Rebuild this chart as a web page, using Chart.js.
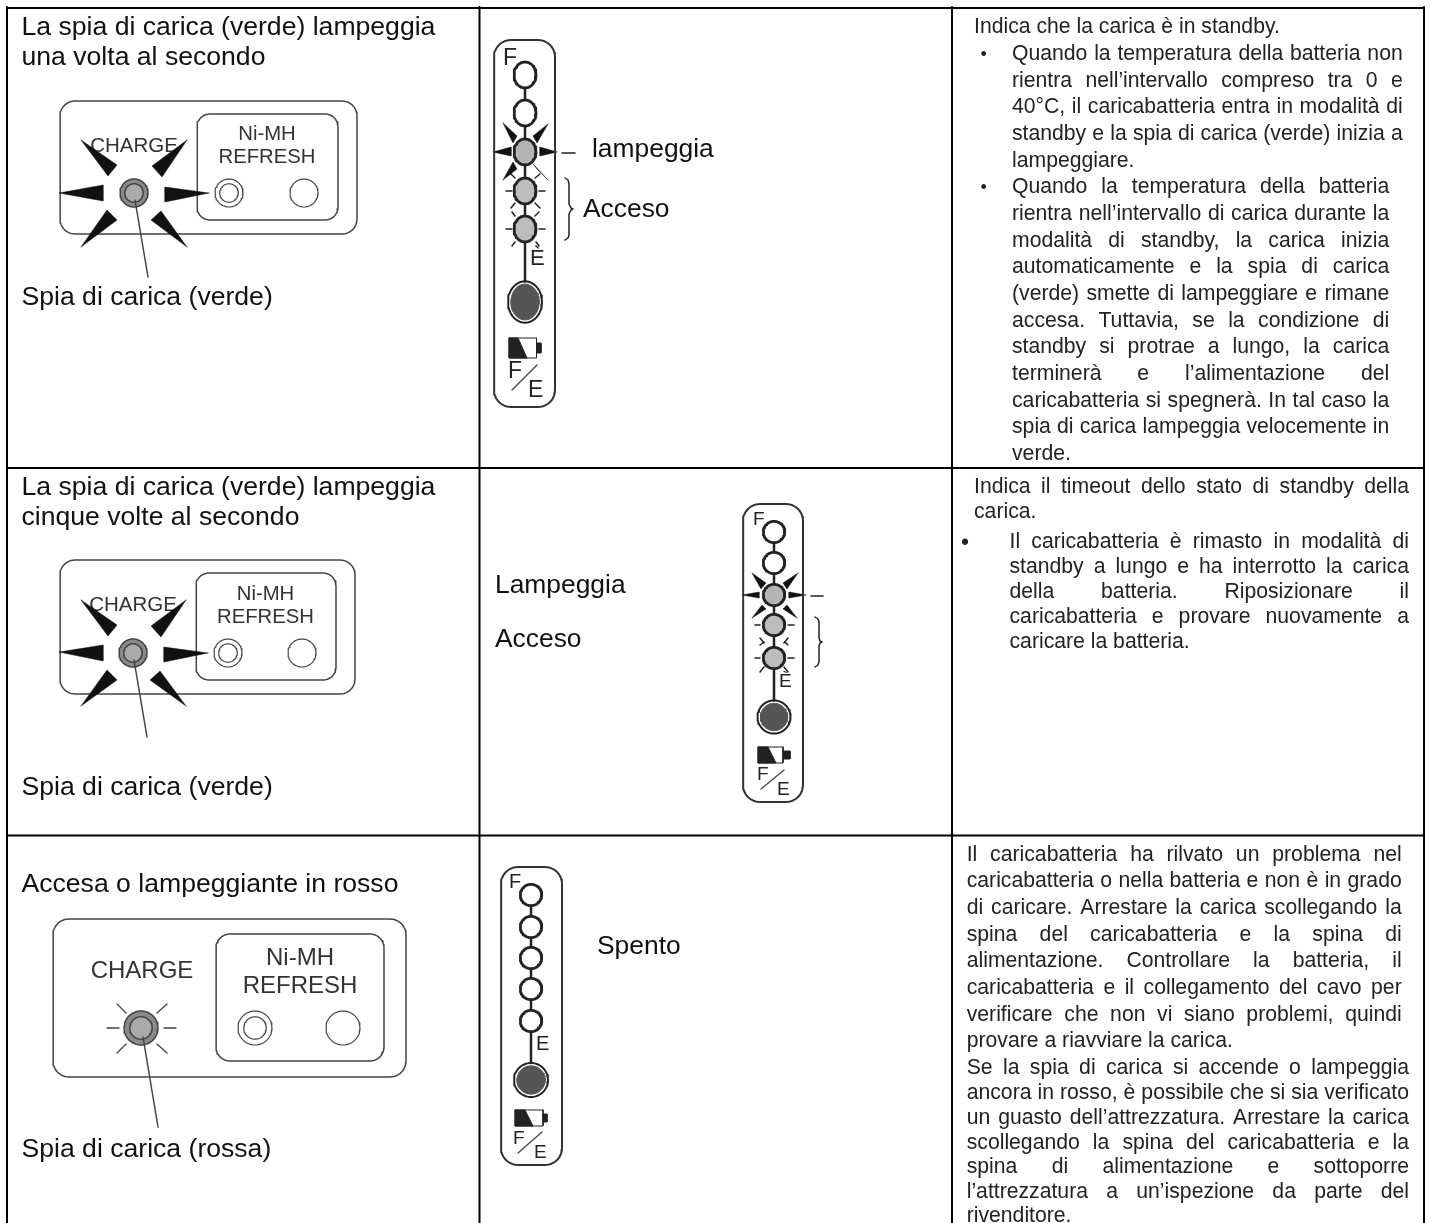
<!DOCTYPE html>
<html>
<head>
<meta charset="utf-8">
<style>
  html, body { margin: 0; padding: 0; background: #fff; overflow: hidden; }
  canvas { display: block; }
</style>
<script src="https://cdn.jsdelivr.net/npm/chart.js@4/dist/chart.umd.min.js"></script>
</head>
<body>
<canvas id="sheet" width="1431" height="1223"></canvas>
<script>
// Table grid
const tableCols = [7, 479.5, 952, 1424];
const tableRows = [8, 468, 835.5];

// Left column text
const leftLabels = [
  'La spia di carica (verde) lampeggia', 'una volta al secondo', 'Spia di carica (verde)',
  'La spia di carica (verde) lampeggia', 'cinque volte al secondo', 'Spia di carica (verde)',
  'Accesa o lampeggiante in rosso', 'Spia di carica (rossa)'
];
const leftBaselines = [35, 64.5, 304.5, 495, 524.5, 794.5, 892, 1157];

// Middle column text
const midLabels = ['lampeggia', 'Acceso', 'Lampeggia', 'Acceso', 'Spento'];
const midX = [592, 583, 495, 495, 597];
const midBaselines = [156.5, 217, 593, 647, 953.5];

// Right column text, line by line
const row1Intro = ['Indica che la carica è in standby.'];
const row1BulletA = [
  'Quando la temperatura della batteria non',
  'rientra nell’intervallo compreso tra 0 e',
  '40°C, il caricabatteria entra in modalità di',
  'standby e la spia di carica (verde) inizia a',
  'lampeggiare.'
];
const row1BulletB = [
  'Quando la temperatura della batteria',
  'rientra nell’intervallo di carica durante la',
  'modalità di standby, la carica inizia',
  'automaticamente e la spia di carica',
  '(verde) smette di lampeggiare e rimane',
  'accesa. Tuttavia, se la condizione di',
  'standby si protrae a lungo, la carica',
  'terminerà e l’alimentazione del',
  'caricabatteria si spegnerà. In tal caso la',
  'spia di carica lampeggia velocemente in',
  'verde.'
];
const row2Intro = ['Indica il timeout dello stato di standby della', 'carica.'];
const row2Bullet = [
  'Il caricabatteria è rimasto in modalità di',
  'standby a lungo e ha interrotto la carica',
  'della batteria. Riposizionare il',
  'caricabatteria e provare nuovamente a',
  'caricare la batteria.'
];
const row3ParaA = [
  'Il caricabatteria ha rilvato un problema nel',
  'caricabatteria o nella batteria e non è in grado',
  'di caricare. Arrestare la carica scollegando la',
  'spina del caricabatteria e la spina di',
  'alimentazione. Controllare la batteria, il',
  'caricabatteria e il collegamento del cavo per',
  'verificare che non vi siano problemi, quindi',
  'provare a riavviare la carica.'
];
const row3ParaB = [
  'Se la spia di carica si accende o lampeggia',
  'ancora in rosso, è possibile che si sia verificato',
  'un guasto dell’attrezzatura. Arrestare la carica',
  'scollegando la spina del caricabatteria e la',
  'spina di alimentazione e sottoporre',
  'l’attrezzatura a un’ispezione da parte del',
  'rivenditore.'
];
const row1IntroY = [33.3];
const row1BulletAY = [60, 86.7, 113.3, 140, 166.7];
const row1BulletBY = [193.3, 220, 246.7, 273.3, 300, 326.7, 353.3, 380, 406.7, 433.3, 460];
const row2IntroY = [493.3, 518];
const row2BulletY = [548, 573, 598, 623, 648];
const row3ParaAY = [860.7, 887.3, 914, 940.7, 967.3, 994, 1020.7, 1047.3];
const row3ParaBY = [1074, 1098.5, 1123.5, 1148.5, 1173, 1197.5, 1222];

// Charger panels: outer box, refresh box, led, two small lamps
const panelBoxes = [[60, 101, 357, 234, 15], [60, 560, 355, 694, 15], [53, 919, 406, 1077, 16]];
const refreshBoxes = [[197, 114, 338, 220, 13], [196, 573, 336, 680, 13], [216, 934, 384, 1061, 14]];
const ledCentres = [[134, 193], [133, 653], [141, 1028]];
const ledRadii = [14, 14, 17];
const lampA = [[229, 193], [228, 653], [255, 1028]];
const lampB = [[304, 193], [302, 653], [343, 1028]];
const pointers = [[[135, 200], [148, 277]], [[134, 660], [147, 737]], [[143, 1037], [158, 1127]]];
const chargeLabel = [[134, 152, 20.5], [133, 611, 20.5], [142, 978, 24]];
const nimhLabel = [[267, 140, 20.3], [265.5, 600, 20.3], [300, 965, 24]];
const refreshLabel = [[267, 163, 20.3], [265.5, 623, 20.3], [300, 993, 24]];

const panel1Arrows = [
  [[81, 140], [117, 165], [108, 176]],
  [[187, 140], [152, 166], [162, 177]],
  [[59, 193], [103, 185], [103, 201]],
  [[209, 193], [165, 187], [165, 202]],
  [[81, 247], [107, 210], [117, 220]],
  [[187, 247], [151, 220], [161, 211]]
];
const panel2Arrows = [
  [[81, 600], [117, 625], [108, 636]],
  [[186, 600], [151, 626], [161, 637]],
  [[59, 652], [103, 645], [103, 661]],
  [[208, 653], [164, 647], [164, 662]],
  [[81, 706], [107, 670], [117, 680]],
  [[186, 706], [150, 680], [160, 671]]
];
const panel3Rays = [
  [[107, 1028], [119, 1028]], [[164, 1028], [176, 1028]],
  [[117, 1004], [126, 1013]], [[167, 1004], [157, 1013]],
  [[117, 1053], [126, 1044]], [[167, 1053], [157, 1044]]
];

// Level gauges
const gaugeBoxes = [[494, 40, 555, 407, 17], [743, 504, 803, 802, 17], [501, 867, 562, 1165, 17]];
const gaugeSpines = [525, 774, 531];
const gauge1Leds = [75, 113, 152, 191, 229];
const gauge2Leds = [532, 563, 595, 625, 658];
const gauge3Leds = [895, 927, 958, 989, 1021];
const gaugeLedRx = [11, 10.7, 10.7];
const gaugeLedRy = [13, 10.7, 10.7];
const gaugeBig = [[302, 17, 20.7], [717, 16.5, 16.5], [1080, 17, 17]];
const gaugeLit = [[0, 0, 1, 2, 2], [0, 0, 1, 2, 2], [0, 0, 0, 0, 0]];
const gaugeLetters = [
  ['F', 503, 65, 23], ['È', 530, 265, 22], ['F', 508, 378, 23], ['E', 528, 397, 23],
  ['F', 753, 525, 19], ['È', 779, 687, 19], ['F', 757, 780, 19], ['E', 777, 795, 19],
  ['F', 509, 888, 20], ['E', 536, 1050, 20], ['F', 513, 1144, 19], ['E', 534, 1158, 19]
];
const gaugeSlashes = [[[512, 390], [537, 365]], [[761, 789], [784, 770]], [[518, 1153], [542, 1132]]];
const batteryBody = [[509, 338, 536.5, 358], [758, 747, 783, 763], [515, 1110, 543, 1126]];
const batteryBlack = [
  [[509, 338], [518, 338], [527, 358], [509, 358]],
  [[758, 747], [768, 747], [776, 763], [758, 763]],
  [[515, 1110], [525, 1110], [533, 1126], [515, 1126]]
];
const batteryNub = [
  [[537, 343], [541, 343], [541, 353], [537, 353]],
  [[783, 751], [790, 751], [790, 759], [783, 759]],
  [[543, 1114], [547, 1114], [547, 1122], [543, 1122]]
];
const gauge1Arrows = [
  [[503, 123], [517, 136], [513, 143]],
  [[548, 124], [533, 136], [537, 143]],
  [[493, 152], [511, 147], [511, 156]],
  [[557, 152], [540, 147], [540, 156]],
  [[503, 180], [513, 162], [517, 169]],
  [[548, 180], [533, 164], [537, 169]]
];
const gauge2Arrows = [
  [[752, 573], [766, 583], [761, 589]],
  [[798, 573], [783, 583], [787, 589]],
  [[742, 595], [759, 592], [759, 598]],
  [[806, 595], [789, 592], [789, 598]],
  [[752, 618], [762, 605], [766, 609]],
  [[797, 618], [783, 609], [787, 605]]
];
const gauge1Rays = [
  [[562, 153], [575, 153]],
  [[506, 191], [512, 191]], [[539, 191], [545, 191]],
  [[511, 174], [515, 178]], [[540, 174], [535, 178]],
  [[511, 208], [515, 203]], [[540, 208], [535, 203]],
  [[506, 229], [512, 229]], [[539, 229], [545, 229]],
  [[512, 212], [515, 216]], [[539, 212], [535, 216]],
  [[512, 246], [515, 242]], [[539, 246], [536, 242]]
];
const gauge2Rays = [
  [[811, 596], [823, 596]],
  [[755, 625], [760, 625]], [[788, 625], [794, 625]],
  [[760, 645], [764, 642]], [[788, 645], [785, 642]],
  [[755, 658], [760, 658]], [[788, 658], [794, 658]],
  [[760, 638], [764, 643]], [[788, 638], [784, 643]],
  [[760, 672], [764, 667]], [[788, 672], [784, 667]]
];
const braces = [
  [[565, 178], [568, 180], [569, 184], [569, 204], [571, 208], [573, 209], [571, 210], [569, 214], [569, 235], [568, 238], [565, 240]],
  [[815, 617], [818, 619], [819, 622], [819, 638], [820, 641], [822, 642], [820, 643], [819, 646], [819, 662], [818, 665], [815, 667]]
];

// helpers
const sheetDatasets = [];
const ink = '#222';

function addMark(pts, color, width, fillColor) {
  sheetDatasets.push({
    data: pts.map(p => ({ x: p[0], y: p[1] })),
    borderColor: color,
    borderWidth: width,
    backgroundColor: fillColor || 'transparent',
    fill: fillColor ? 'shape' : false,
    showLine: true,
    pointRadius: 0,
    tension: 0,
    borderJoinStyle: 'round',
    borderCapStyle: 'round',
    clip: false,
    order: -sheetDatasets.length
  });
}

function ovalOutline(cx, cy, rx, ry) {
  const pts = [];
  for (let a = 0; a <= 60; a++) {
    const t = a / 60 * Math.PI * 2;
    pts.push([cx + rx * Math.cos(t), cy + ry * Math.sin(t)]);
  }
  return pts;
}

function boxOutline(b) {
  const [x0, y0, x1, y1, r] = b;
  const pts = [];
  const corners = [[x1 - r, y0 + r, -90], [x1 - r, y1 - r, 0], [x0 + r, y1 - r, 90], [x0 + r, y0 + r, 180]];
  corners.forEach(c => {
    for (let a = 0; a <= 12; a++) {
      const t = (c[2] + a * 7.5) * Math.PI / 180;
      pts.push([c[0] + r * Math.cos(t), c[1] + r * Math.sin(t)]);
    }
  });
  pts.push(pts[0]);
  return pts;
}

// table
tableCols.forEach(x => addMark([[x, tableRows[0] - 1], [x, 1223]], '#000', 2));
tableRows.forEach(y => addMark([[tableCols[0], y], [tableCols[3], y]], '#000', 2));

// charger panels
panelBoxes.forEach((b, i) => {
  addMark(boxOutline(b), '#444', 1.5);
  addMark(boxOutline(refreshBoxes[i]), '#444', 1.5);
  const [cx, cy] = ledCentres[i];
  const r = ledRadii[i];
  addMark(ovalOutline(cx, cy, r, r), '#444', 1.5, '#8a8a8a');
  addMark(ovalOutline(cx, cy, r * 0.66, r * 0.66), '#444', 1.5, '#aaa');
  addMark(ovalOutline(lampA[i][0], lampA[i][1], r, r), '#444', 1.2);
  addMark(ovalOutline(lampA[i][0], lampA[i][1], r * 0.66, r * 0.66), '#444', 1.2);
  addMark(ovalOutline(lampB[i][0], lampB[i][1], r, r), '#444', 1.2);
  addMark(pointers[i], '#444', 1.5);
});
[panel1Arrows, panel2Arrows, gauge1Arrows, gauge2Arrows].forEach(list => {
  list.forEach(t => addMark(t.concat([t[0]]), '#111', 0.5, '#111'));
});
panel3Rays.forEach(r => addMark(r, '#444', 1.3));
gauge1Rays.forEach(r => addMark(r, ink, 1.5));
gauge2Rays.forEach(r => addMark(r, ink, 1.5));
braces.forEach(b => addMark(b, ink, 1.5));

// gauges
[gauge1Leds, gauge2Leds, gauge3Leds].forEach((leds, g) => {
  const sx = gaugeSpines[g];
  const rx = gaugeLedRx[g];
  const ry = gaugeLedRy[g];
  const [bigY, bigRx, bigRy] = gaugeBig[g];
  addMark(boxOutline(gaugeBoxes[g]), '#333', 2);
  leds.forEach((y, i) => {
    addMark(ovalOutline(sx, y, rx, ry), ink, 2.8, ['#fff', '#b4b4b4', '#bdbdbd'][gaugeLit[g][i]]);
    const nextTop = i < leds.length - 1 ? leds[i + 1] - ry : bigY - bigRy;
    addMark([[sx, y + ry], [sx, nextTop]], ink, 2.5);
  });
  addMark(ovalOutline(sx, bigY, bigRx, bigRy), ink, 2);
  addMark(ovalOutline(sx, bigY, bigRx - 2.8, bigRy - 2.8), '#555', 1, '#555');
  const bb = batteryBody[g];
  addMark(boxOutline([bb[0], bb[1], bb[2], bb[3], 0]), ink, 1);
  addMark(batteryBlack[g].concat([batteryBlack[g][0]]), ink, 1, ink);
  addMark(batteryNub[g].concat([batteryNub[g][0]]), ink, 1, ink);
  addMark(gaugeSlashes[g], '#444', 1.3);
});

const justifiedBlocks = [
  { lines: row1Intro, ys: row1IntroY, x: 974, right: 0 },
  { lines: row1BulletA, ys: row1BulletAY, x: 1012, right: 1402.7 },
  { lines: row1BulletB, ys: row1BulletBY, x: 1012, right: 1389.3 },
  { lines: row2Intro, ys: row2IntroY, x: 974, right: 1409 },
  { lines: row2Bullet, ys: row2BulletY, x: 1009.5, right: 1409 },
  { lines: row3ParaA, ys: row3ParaAY, x: 966.7, right: 1401.7 },
  { lines: row3ParaB, ys: row3ParaBY, x: 966.7, right: 1409 }
];

function putText(chart, str, x, y, size, color, align) {
  const { ctx, scales } = chart;
  ctx.font = size + 'px "Liberation Sans"';
  ctx.fillStyle = color;
  ctx.textAlign = align || 'left';
  ctx.textBaseline = 'alphabetic';
  ctx.fillText(str, scales.x.getPixelForValue(x), scales.y.getPixelForValue(y));
}

const sheetText = {
  id: 'sheetText',
  // panel captions sit under the arrows, so they go down before the fills
  beforeDraw(chart) {
    [0, 1, 2].forEach(i => {
      putText(chart, 'CHARGE', chargeLabel[i][0], chargeLabel[i][1], chargeLabel[i][2], '#333', 'center');
      putText(chart, 'Ni-MH', nimhLabel[i][0], nimhLabel[i][1], nimhLabel[i][2], '#333', 'center');
      putText(chart, 'REFRESH', refreshLabel[i][0], refreshLabel[i][1], refreshLabel[i][2], '#333', 'center');
    });
  },
  afterDatasetsDraw(chart) {
    const ctx = chart.ctx;
    ctx.save();
    leftLabels.forEach((s, i) => putText(chart, s, 21.5, leftBaselines[i], 26.6, '#111'));
    midLabels.forEach((s, i) => putText(chart, s, midX[i], midBaselines[i], 26.4, '#111'));
    gaugeLetters.forEach(l => putText(chart, l[0], l[1], l[2], l[3], ink));
    // justified paragraphs: stretch the spaces, last line of a block stays natural
    justifiedBlocks.forEach(b => {
      b.lines.forEach((s, i) => {
        ctx.font = '21.2px "Liberation Sans"';
        ctx.wordSpacing = '0px';
        const gaps = s.split(' ').length - 1;
        const last = i === b.lines.length - 1;
        if (b.right && !last && gaps > 0) {
          const extra = (b.right - b.x - ctx.measureText(s).width) / gaps;
          ctx.wordSpacing = extra + 'px';
        }
        putText(chart, s, b.x, b.ys[i], 21.2, ink);
        ctx.wordSpacing = '0px';
      });
    });
    putText(chart, '•', 980.5, 60, 18, ink);
    putText(chart, '•', 980.5, 193.3, 18, ink);
    putText(chart, '•', 961, 550, 23, ink);
    ctx.restore();
  }
};

new Chart(document.getElementById('sheet').getContext('2d'), {
  type: 'scatter',
  data: { datasets: sheetDatasets },
  options: {
    responsive: false,
    animation: false,
    events: [],
    layout: { padding: 0 },
    scales: {
      x: { type: 'linear', min: 0, max: 1431, display: false },
      y: { type: 'linear', min: 0, max: 1223, reverse: true, display: false }
    },
    plugins: { legend: { display: false }, title: { display: false }, tooltip: { enabled: false } }
  },
  plugins: [sheetText]
});
</script>
</body>
</html>
